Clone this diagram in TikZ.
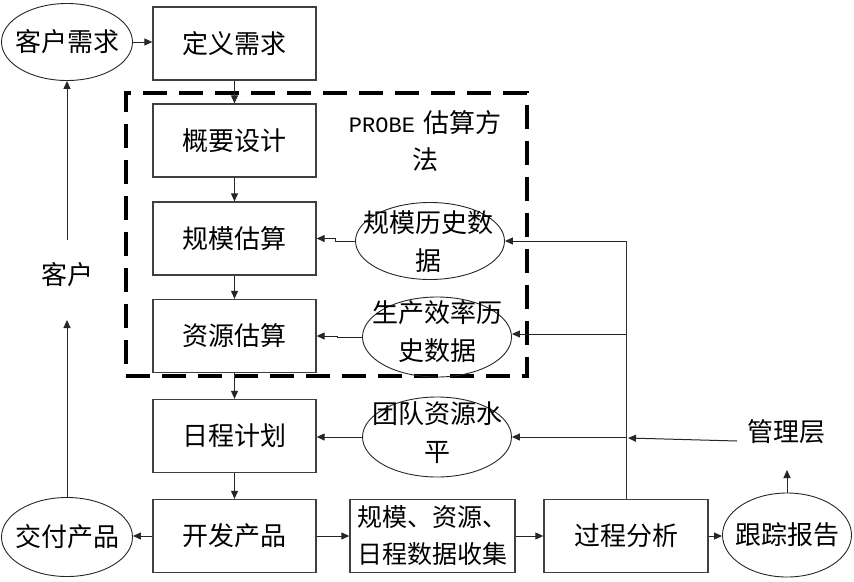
\documentclass[tikz,border=0pt]{standalone}
\usepackage{fontspec}
\newfontfamily\cjk{Noto Sans CJK SC}
\newfontfamily\latinmono{Liberation Mono}
\usetikzlibrary{arrows.meta,shapes.geometric}
\begin{document}
\begin{tikzpicture}[x=1pt,y=-1pt,
  box/.style={draw=black!75, line width=1.3pt, minimum width=163pt, minimum height=73pt, inner sep=0pt, font=\cjk\fontsize{26}{37}\selectfont, align=center},
  ell/.style={ellipse, draw=black!85, line width=0.9pt, inner sep=0pt},
  txt/.style={font=\cjk\fontsize{26}{38}\selectfont, align=center, inner sep=0pt},
  arr/.style={draw=black!85, line width=1pt, -{Triangle[length=8pt,width=7pt]}},
  ln/.style={draw=black!80, line width=1pt},
  probebox/.style={draw=black, line width=3.5pt, dash pattern=on 24pt off 12pt, minimum width=401pt, minimum height=283pt, inner sep=0pt},
]
\useasboundingbox (0,0) rectangle (854,581);

% dashed PROBE frame
\node[probebox] (probe) at (326.5,234.5) {};
\node[txt, font=\fontsize{26}{37}\selectfont] (probetxt) at (425,141) {{\latinmono\fontsize{22}{37}\selectfont PROBE}\hspace{8pt}\cjk 估算方\\\cjk 法};

% boxes
\node[box] (b1) at (234.5,43.5) {定义需求};
\node[box] (b2) at (234.5,140.5) {概要设计};
\node[box] (b3) at (234.5,238.5) {规模估算};
\node[box] (b4) at (234.5,336) {资源估算};
\node[box] (b5) at (234.5,436) {日程计划};
\node[box] (b6) at (234.5,536) {开发产品};
\node[box, minimum width=165pt, font=\cjk\fontsize{25}{37}\selectfont] (b7) at (432.5,536) {规模、资源、\\日程数据收集};
\node[box, minimum width=164pt] (b8) at (626,536) {过程分析};

% ellipses
\node[ell, minimum width=131pt, minimum height=77pt] (e1) at (67,42) {};
\node[txt] (e1t) at (e1) {客户需求};
\node[ell, minimum width=131pt, minimum height=79pt] (e2) at (67,537) {};
\node[txt] (e2t) at (e2) {交付产品};
\node[ell, minimum width=149pt, minimum height=77pt] (e3) at (430,241) {};
\node[txt] (e3t) at (428,242) {规模历史数\\据};
\node[ell, minimum width=149pt, minimum height=80pt] (e4) at (437,337) {};
\node[txt] (e4t) at (437,332) {生产效率历\\史数据};
\node[ell, minimum width=149pt, minimum height=80pt] (e5) at (437,437) {};
\node[txt] (e5t) at (437,433) {团队资源水\\平};
\node[ell, minimum width=129pt, minimum height=84pt] (e6) at (787,535) {};
\node[txt] (e6t) at (e6) {跟踪报告};

% free texts
\node[txt] (kehu) at (67,275) {客户};
\node[txt] (mgr) at (786,432) {管理层};

% coordinates
\coordinate (k1) at (67,320);
\coordinate (k2) at (67,240);
\coordinate (m0) at (737,441);
\coordinate (m1) at (628,438);
\coordinate (t1) at (787,470);

% main flow
\draw[arr] (e1.east) -- (e1.east -| b1.west);
\draw[arr] (b1) -- (b2);
\draw[arr] (b2) -- (b3);
\draw[arr] (b3) -- (b4);
\draw[arr] (b4) -- (b5);
\draw[arr] (b5) -- (b6);
\draw[arr] (b6.west) -- (b6.west -| e2.east);
\draw[arr] (b6) -- (b7);
\draw[arr] (b7) -- (b8);
\draw[arr] (b8.east) -- (b8.east -| e6.west);
\draw[arr] (e6.north) -- (t1);

% customer loop
\draw[arr] (e2.north) -- (k1);
\draw[arr] (k2) -- (e1.south);

% data ellipses to boxes
\draw[arr] (e3.west) -- ++(-20,0) |- (b3.east);
\draw[arr] (e4.west) -- ++(-25,0) |- (b4.east);
\draw[arr] (e5.west) -- (e5.west -| b5.east);

% feedback from process analysis
\draw[ln] (b8.north) -- (b8.north |- e3.east);
\draw[arr] (b8.north |- e3.east) -- (e3.east);
\draw[arr] (b8.north |- 0,334) -- (e4.east |- 0,334);
\draw[arr] (b8.north |- e5.east) -- (e5.east);
\draw[arr] (m0) -- (m1);
\end{tikzpicture}
\end{document}
